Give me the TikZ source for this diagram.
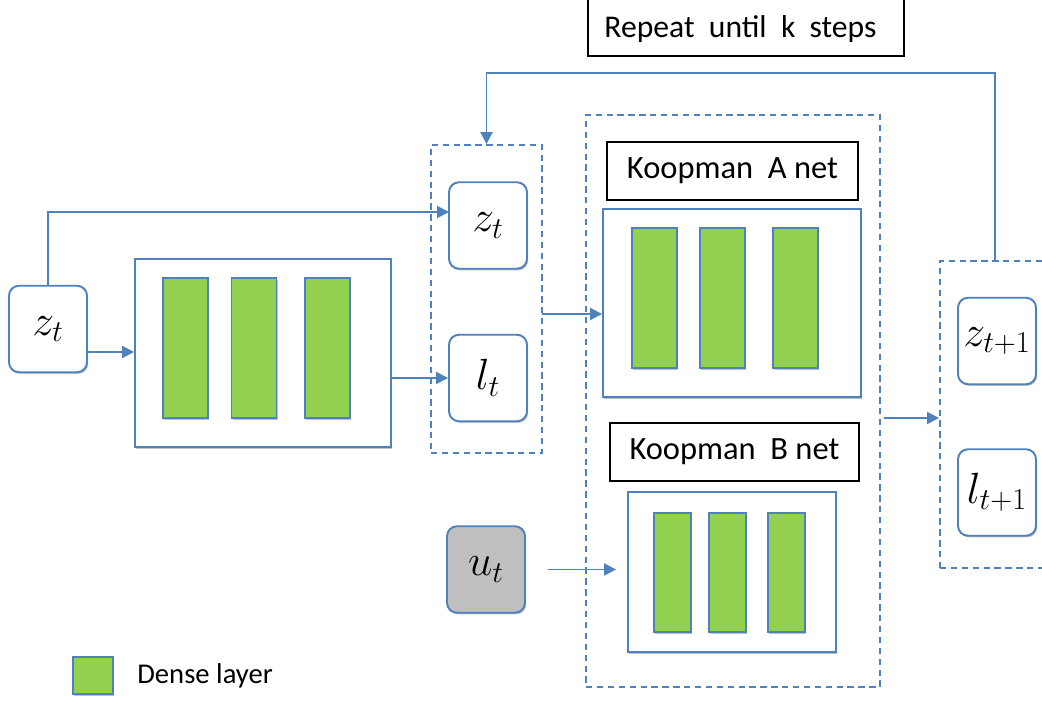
\documentclass[tikz,border=0pt]{standalone}
\usepackage{fontspec}
\setmainfont{Carlito}
\usetikzlibrary{arrows.meta,shadows}

\definecolor{lineblue}{HTML}{4F81BD}
\definecolor{densegreen}{HTML}{92D050}
\definecolor{inputgray}{HTML}{BFBFBF}

\tikzset{
  flow/.style={draw=lineblue, line width=1.1pt, -{Triangle[length=0.24cm,width=0.24cm]}},
  soft/.style={drop shadow={shadow xshift=0.7pt, shadow yshift=-0.9pt, opacity=0.25, fill=black}},
  state/.style={draw=lineblue, line width=1.1pt, rounded corners=0.2cm, fill=white, soft,
                minimum width=1.56cm, minimum height=1.73cm, inner sep=0pt,
                font=\fontsize{25}{29}\selectfont},
  netbox/.style={draw=lineblue, line width=1.1pt, fill=white, soft, inner sep=0pt},
  dense/.style={draw=lineblue, line width=0.8pt, fill=densegreen, soft, inner sep=0pt},
  group/.style={draw=lineblue, line width=1.1pt, dash pattern=on 3.6pt off 2.6pt, inner sep=0pt},
  tag/.style={draw=black, line width=1pt, fill=white, inner sep=0pt,
              font=\fontsize{18.5}{21}\selectfont}
}

\begin{document}
\begin{tikzpicture}[x=0.02cm, y=-0.02cm]
  \useasboundingbox (0,0) rectangle (1042,702);

  % dashed groups
  \node[group, minimum width=2.22cm, minimum height=6.16cm] (d1) at (486.5,299) {};
  \node[group, minimum width=5.88cm, minimum height=11.44cm] (d2) at (733,401) {};
  \node[group, minimum width=2.2cm, minimum height=6.14cm] (d3) at (995,414.5) {};

  % encoder
  \node[state] (zt) at (48,329) {$z_t$};
  \node[netbox, minimum width=5.12cm, minimum height=3.76cm] (enc) at (263,353) {};
  \foreach \x/\n in {185.5/1, 254/2, 327.5/3}
    \node[dense, minimum width=0.9cm, minimum height=2.8cm] (enc\n) at (\x,348) {};

  % latent state
  \node[state] (zt2) at (488,225.5) {$z_t$};
  \node[state] (lt) at (488,378) {$l_t$};

  % Koopman A
  \node[tag, minimum width=5.02cm, minimum height=1.16cm] (atag) at (732.5,171) {Koopman\ \ A net};
  \node[netbox, minimum width=5.16cm, minimum height=3.76cm] (anet) at (732,303) {};
  \foreach \x/\n in {654.5/1, 722.5/2, 795.5/3}
    \node[dense, minimum width=0.9cm, minimum height=2.8cm] (a\n) at (\x,298) {};

  % Koopman B
  \node[tag, minimum width=4.98cm, minimum height=1.16cm] (btag) at (734.5,452) {Koopman\ \ B net};
  \node[netbox, minimum width=4.16cm, minimum height=3.2cm] (bnet) at (732,572) {};
  \foreach \x/\n in {672.5/1, 727.5/2, 786.5/3}
    \node[dense, minimum width=0.74cm, minimum height=2.38cm] (b\n) at (\x,572.5) {};

  \node[state, fill=inputgray] (ut) at (486,569.5) {$u_t$};

  % next state
  \node[state] (zn) at (997,341) {$z_{t+1}$};
  \node[state] (ln) at (997,492.5) {$l_{t+1}$};

  \node[tag, minimum width=6.32cm, minimum height=1.18cm, text depth=0pt,
        font=\fontsize{18}{21}\selectfont] (rep) at (746,26.5) {\hspace*{-0.22cm}Repeat\ \ until\ \ k\ \ steps};

  % legend
  \node[dense, minimum width=0.8cm, minimum height=0.74cm] (leg) at (93,675.5) {};
  \node[anchor=west, inner sep=0pt, font=\fontsize{16.3}{19}\selectfont] (legtxt) at (137,676) {Dense layer};

  % connectors
  \coordinate (zin) at (449,212);
  \coordinate (zout) at (87,352);
  \coordinate (dout) at (542,314);
  \coordinate (nout) at (884,418);
  \coordinate (fb) at (995,73);
  \draw[flow] (zt.north) |- (zin);
  \draw[flow] (zout) -- (zout -| enc.west);
  \draw[flow] (lt.west -| enc.east) -- (lt.west);
  \draw[flow] (dout) -- (dout -| anet.west);
  \draw[flow, shorten <=0.44cm, shorten >=0.22cm] (ut.east) -- (ut.east -| bnet.west);
  \draw[flow] (nout) -- (nout -| d3.west);
  \draw[flow] (d3.north) -- (fb) -| (d1.north);
\end{tikzpicture}
\end{document}
